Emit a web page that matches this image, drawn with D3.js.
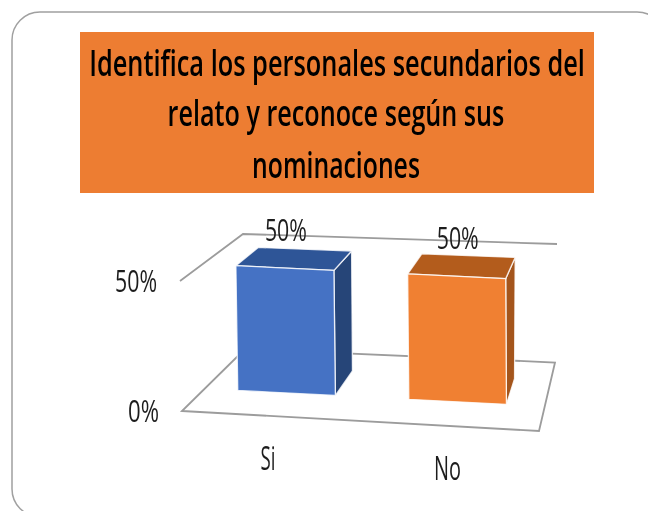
<!DOCTYPE html>
<html>
<head>
<meta charset="utf-8">
<script src="https://cdn.jsdelivr.net/npm/d3@7"></script>
<style>
    html, body { margin: 0; padding: 0; background: #fff; overflow: hidden; }
    text { font-family: "Open Sans", sans-serif; }
</style>
</head>
<body>
<script>
const titleLines = ["Identifica los personales secundarios del", "relato y reconoce según sus", "nominaciones"];
const categories = ["Si", "No"];
const values = [0.5, 0.5];
const tickValues = [0, 0.5];
const frontColors = ["#4472C4", "#F08033"];
const topColors = ["#2F5597", "#B35C1E"];
const sideColors = ["#264478", "#A4541A"];

const width = 648, height = 511;

let svg = d3.select("body").append("svg")
    .attr("width", width)
    .attr("height", height);

//the source picture is a blurry screenshot, so soften everything a bit
svg.append("defs").append("filter")
    .attr("id", "soft")
    .append("feGaussianBlur")
    .attr("stdDeviation", 0.45);

let root = svg.append("g").attr("filter", "url(#soft)");

//the reference font is a narrow one, so squeeze each label horizontally to the width it has there
function squeeze(selection, x, y, anchor, targetWidth) {
    selection.each(function (d, i) {
        const natural = this.getComputedTextLength();
        const tx = x(d, i), ty = y(d, i), w = targetWidth(d, i);
        d3.select(this)
            .attr("text-anchor", anchor)
            .attr("transform", "translate(" + tx + "," + ty + ") scale(" + (w / natural) + ",1)");
    });
}

//slide frame, runs off the right and bottom of the window
root.append("rect")
    .attr("x", 12).attr("y", 12)
    .attr("width", 653).attr("height", 505)
    .attr("rx", 28)
    .attr("fill", "#fff")
    .attr("stroke", "#a0a0a0")
    .attr("stroke-width", 1.5);

// title box
root.append("rect")
    .attr("x", 80).attr("y", 32)
    .attr("width", 514).attr("height", 161)
    .attr("fill", "#ED7D31");

const titleLayout = [[337, 76, 496], [336, 126, 337], [336, 178, 168]];
root.selectAll(".title")
    .data(titleLines)
    .join("text")
    .attr("class", "title")
    .attr("font-size", 36)
    .attr("font-weight", 600)
    .attr("fill", "#000")
    .text(d => d)
    .call(squeeze, (d, i) => titleLayout[i][0], (d, i) => titleLayout[i][1], "middle", (d, i) => titleLayout[i][2]);

// the 3d box: u goes across the floor, d goes into the picture, v goes up
const uScale = d3.scaleBand().domain(categories).range([-0.012, 0.9966]).paddingInner(0.4294).paddingOuter(0.2173);
const dScale = d3.scaleLinear().domain([0, 1]).range([0, 1]);
const yScale = d3.scaleLinear().domain([0, 0.5]).range([0, 1]);

const corners = {
    floorFront: [d3.scaleLinear().range([182, 539]), d3.scaleLinear().range([411, 431])],
    floorBack: [d3.scaleLinear().range([245, 555]), d3.scaleLinear().range([349, 362.5])],
    topFront: [d3.scaleLinear().range([180, 537]), d3.scaleLinear().range([281, 301])],
    topBack: [d3.scaleLinear().range([243, 557]), d3.scaleLinear().range([234, 244])]
};

function project(u, depth, value) {
    const d = dScale(depth), v = yScale(value);
    const mix = (a, b, t) => a + (b - a) * t;
    return [0, 1].map(k => {
        const bottom = mix(corners.floorFront[k](u), corners.floorBack[k](u), d);
        const top = mix(corners.topFront[k](u), corners.topBack[k](u), d);
        return mix(bottom, top, v);
    });
}

const wallColor = "#9c9c9c";
const polyLine = d3.line();

// floor and the two wall edges
root.append("path")
    .attr("d", polyLine([project(0, 0, 0), project(1, 0, 0), project(1, 1, 0), project(0, 1, 0)]) + "Z")
    .attr("fill", "none")
    .attr("stroke", wallColor)
    .attr("stroke-width", 1.8);

root.append("path")
    .attr("d", polyLine([project(0, 0, 0.5), project(0, 1, 0.5), project(1, 1, 0.5)]))
    .attr("fill", "none")
    .attr("stroke", wallColor)
    .attr("stroke-width", 1.8);

// bars
const barFront = 0.36, barBack = 0.74;
categories.forEach((cat, i) => {
    const u0 = uScale(cat), u1 = u0 + uScale.bandwidth(), v = values[i];
    let bar = root.append("g").attr("class", "bar");
    const faces = [
        { color: sideColors[i], pts: [[u1, barFront, 0], [u1, barBack, 0], [u1, barBack, v], [u1, barFront, v]] },
        { color: topColors[i], pts: [[u0, barFront, v], [u1, barFront, v], [u1, barBack, v], [u0, barBack, v]] },
        { color: frontColors[i], pts: [[u0, barFront, 0], [u1, barFront, 0], [u1, barFront, v], [u0, barFront, v]] }
    ];
    faces.forEach(f => {
        bar.append("path")
            .attr("d", polyLine(f.pts.map(p => project(p[0], p[1], p[2]))) + "Z")
            .attr("fill", f.color)
            .attr("stroke", "#fff")
            .attr("stroke-opacity", 0.8)
            .attr("stroke-width", 1.3);
    });
});

const labelColor = "#1f1f1f";
const barMiddle = cat => uScale(cat) + uScale.bandwidth() / 2;

// value labels over the bars
root.selectAll(".value")
    .data(values)
    .join("text")
    .attr("class", "value")
    .attr("font-size", 31)
    .attr("fill", labelColor)
    .text(d3.format(".0%"))
    .call(squeeze,
        (d, i) => project(barMiddle(categories[i]), barFront, d)[0] + 1,
        (d, i) => project(barMiddle(categories[i]), barFront, d)[1] - 27,
        "middle", () => 42);

// y ticks
root.selectAll(".tick")
    .data(tickValues)
    .join("text")
    .attr("class", "tick")
    .attr("font-size", 31)
    .attr("fill", labelColor)
    .text(d3.format(".0%"))
    .call(squeeze,
        d => project(0, 0, d)[0] - 23,
        d => project(0, 0, d)[1] + 11,
        "end", d => d === 0 ? 31 : 42);

// categories
root.selectAll(".cat")
    .data(categories)
    .join("text")
    .attr("class", "cat")
    .attr("font-size", 32)
    .attr("fill", labelColor)
    .text(d => d)
    .call(squeeze,
        d => project(barMiddle(d), 0, 0)[0],
        d => project(barMiddle(d), 0, 0)[1] + 54,
        "middle", d => d === "Si" ? 15 : 27);
</script>
</body>
</html>
